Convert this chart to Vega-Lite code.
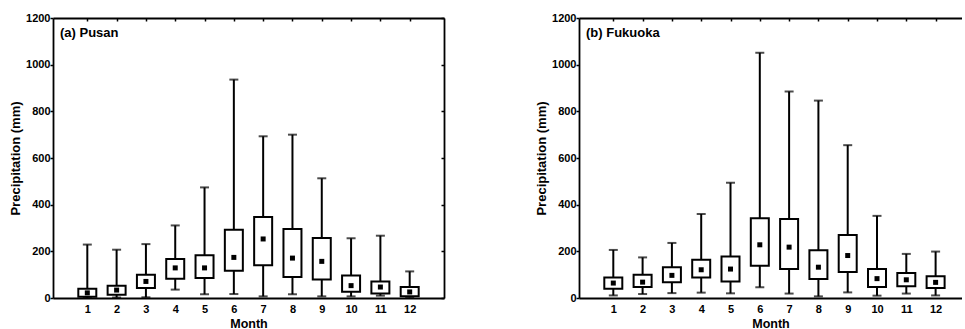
{
  "$schema": "https://vega.github.io/schema/vega-lite/v6.json",
  "padding": {"left": 9, "top": 12, "right": 0, "bottom": 0},
  "background": "white",
  "spacing": 90,
  "datasets": {
    "pusan": [
      {"month": 1, "min": 0, "q1": 5, "median": 22, "q3": 40, "max": 229},
      {"month": 2, "min": 2, "q1": 14, "median": 34, "q3": 53, "max": 207},
      {"month": 3, "min": 3, "q1": 43, "median": 71, "q3": 100, "max": 231},
      {"month": 4, "min": 36, "q1": 83, "median": 129, "q3": 167, "max": 311},
      {"month": 5, "min": 16, "q1": 86, "median": 129, "q3": 183, "max": 474},
      {"month": 6, "min": 17, "q1": 117, "median": 174, "q3": 293, "max": 936},
      {"month": 7, "min": 7, "q1": 140, "median": 253, "q3": 347, "max": 693},
      {"month": 8, "min": 16, "q1": 90, "median": 171, "q3": 296, "max": 700},
      {"month": 9, "min": 7, "q1": 79, "median": 157, "q3": 257, "max": 513},
      {"month": 10, "min": 7, "q1": 27, "median": 53, "q3": 96, "max": 256},
      {"month": 11, "min": 10, "q1": 19, "median": 47, "q3": 71, "max": 267},
      {"month": 12, "min": 3, "q1": 7, "median": 26, "q3": 47, "max": 114}
    ],
    "fukuoka": [
      {"month": 1, "min": 11, "q1": 40, "median": 64, "q3": 88, "max": 206},
      {"month": 2, "min": 17, "q1": 47, "median": 68, "q3": 100, "max": 174},
      {"month": 3, "min": 21, "q1": 68, "median": 97, "q3": 132, "max": 236},
      {"month": 4, "min": 23, "q1": 88, "median": 121, "q3": 164, "max": 360},
      {"month": 5, "min": 20, "q1": 71, "median": 124, "q3": 178, "max": 494},
      {"month": 6, "min": 46, "q1": 138, "median": 228, "q3": 342, "max": 1051},
      {"month": 7, "min": 19, "q1": 124, "median": 218, "q3": 339, "max": 885},
      {"month": 8, "min": 7, "q1": 81, "median": 132, "q3": 205, "max": 846},
      {"month": 9, "min": 24, "q1": 111, "median": 182, "q3": 270, "max": 655},
      {"month": 10, "min": 10, "q1": 47, "median": 83, "q3": 124, "max": 352},
      {"month": 11, "min": 19, "q1": 50, "median": 78, "q3": 107, "max": 189},
      {"month": 12, "min": 11, "q1": 43, "median": 67, "q3": 93, "max": 199}
    ]
  },
  "config": {
    "view": {"stroke": null},
    "font": "Liberation Sans",
    "axis": {
      "labelFont": "Liberation Sans",
      "labelFontWeight": "bold",
      "labelFontSize": 11,
      "labelColor": "black",
      "titleFont": "Liberation Sans",
      "titleFontWeight": "bold",
      "titleFontSize": 13,
      "titleColor": "black",
      "domainColor": "black",
      "domainWidth": 1.8,
      "tickColor": "black",
      "tickWidth": 1.5,
      "grid": false
    },
    "title": {
      "font": "Liberation Sans",
      "fontSize": 13,
      "fontWeight": "bold",
      "color": "black",
      "anchor": "start",
      "frame": "group",
      "offset": -28,
      "dx": 7
    }
  },
  "hconcat": [
    {
      "width": 391,
      "height": 280,
      "data": {"name": "pusan"},
      "title": {"text": "(a) Pusan"},
      "resolve": {"axis": {"x": "independent", "y": "independent"}},
      "layer": [
        {
          "mark": {"type": "rule", "strokeWidth": 2, "color": "black"},
          "encoding": {
            "x": {"field": "month", "type": "quantitative", "scale": {"domain": [0, 13], "nice": false, "zero": false},
                  "axis": {"orient": "bottom", "values": [1,2,3,4,5,6,7,8,9,10,11,12], "ticks": false, "labelPadding": 5, "title": "Month", "titlePadding": 3, "titleFontSize": 12.5}},
            "y": {"field": "min", "type": "quantitative", "scale": {"domain": [0, 1200], "nice": false},
                  "axis": {"orient": "left", "values": [0,200,400,600,800,1000,1200], "format": "d", "tickSize": 3, "labelPadding": 0, "title": "Precipitation (mm)", "titlePadding": 3}},
            "y2": {"field": "max"}
          }
        },
        {
          "mark": {"type": "tick", "orient": "horizontal", "size": 9, "thickness": 2, "color": "black"},
          "encoding": {
            "x": {"field": "month", "type": "quantitative", "scale": {"domain": [0, 13], "nice": false, "zero": false},
                  "axis": {"orient": "top", "values": [1,2,3,4,5,6,7,8,9,10,11,12], "labels": false, "tickSize": -3, "title": null}},
            "y": {"field": "max", "type": "quantitative", "scale": {"domain": [0, 1200], "nice": false},
                  "axis": {"orient": "right", "values": [0,200,400,600,800,1000,1200], "labels": false, "tickSize": -3, "title": null}}
          }
        },
        {
          "mark": {"type": "tick", "orient": "horizontal", "size": 9, "thickness": 2, "color": "black"},
          "encoding": {
            "x": {"field": "month", "type": "quantitative", "scale": {"domain": [0, 13], "nice": false, "zero": false}, "axis": null},
            "y": {"field": "min", "type": "quantitative", "scale": {"domain": [0, 1200], "nice": false}, "axis": null}
          }
        },
        {
          "mark": {"type": "bar", "width": 18, "fill": "white", "stroke": "black", "strokeWidth": 2},
          "encoding": {
            "x": {"field": "month", "type": "quantitative", "scale": {"domain": [0, 13], "nice": false, "zero": false}, "axis": null},
            "y": {"field": "q1", "type": "quantitative", "scale": {"domain": [0, 1200], "nice": false}, "axis": null},
            "y2": {"field": "q3"}
          }
        },
        {
          "mark": {"type": "square", "size": 25, "color": "black", "filled": true, "opacity": 1},
          "encoding": {
            "x": {"field": "month", "type": "quantitative", "scale": {"domain": [0, 13], "nice": false, "zero": false}, "axis": null},
            "y": {"field": "median", "type": "quantitative", "scale": {"domain": [0, 1200], "nice": false}, "axis": null}
          }
        }
      ]
    },
    {
      "width": 383,
      "height": 280,
      "data": {"name": "fukuoka"},
      "title": {"text": "(b) Fukuoka"},
      "resolve": {"axis": {"x": "independent", "y": "independent"}},
      "layer": [
        {
          "mark": {"type": "rule", "strokeWidth": 2, "color": "black"},
          "encoding": {
            "x": {"field": "month", "type": "quantitative", "scale": {"domain": [0, 12.73], "nice": false, "zero": false},
                  "axis": {"orient": "bottom", "values": [1,2,3,4,5,6,7,8,9,10,11,12], "ticks": false, "labelPadding": 5, "title": "Month", "titlePadding": 3, "titleFontSize": 12.5}},
            "y": {"field": "min", "type": "quantitative", "scale": {"domain": [0, 1200], "nice": false},
                  "axis": {"orient": "left", "values": [0,200,400,600,800,1000,1200], "format": "d", "tickSize": 3, "labelPadding": 0, "title": "Precipitation (mm)", "titlePadding": 3}},
            "y2": {"field": "max"}
          }
        },
        {
          "mark": {"type": "tick", "orient": "horizontal", "size": 9, "thickness": 2, "color": "black"},
          "encoding": {
            "x": {"field": "month", "type": "quantitative", "scale": {"domain": [0, 12.73], "nice": false, "zero": false},
                  "axis": {"orient": "top", "values": [1,2,3,4,5,6,7,8,9,10,11,12], "labels": false, "tickSize": -3, "title": null}},
            "y": {"field": "max", "type": "quantitative", "scale": {"domain": [0, 1200], "nice": false}, "axis": null}
          }
        },
        {
          "mark": {"type": "tick", "orient": "horizontal", "size": 9, "thickness": 2, "color": "black"},
          "encoding": {
            "x": {"field": "month", "type": "quantitative", "scale": {"domain": [0, 12.73], "nice": false, "zero": false}, "axis": null},
            "y": {"field": "min", "type": "quantitative", "scale": {"domain": [0, 1200], "nice": false}, "axis": null}
          }
        },
        {
          "mark": {"type": "bar", "width": 18, "fill": "white", "stroke": "black", "strokeWidth": 2},
          "encoding": {
            "x": {"field": "month", "type": "quantitative", "scale": {"domain": [0, 12.73], "nice": false, "zero": false}, "axis": null},
            "y": {"field": "q1", "type": "quantitative", "scale": {"domain": [0, 1200], "nice": false}, "axis": null},
            "y2": {"field": "q3"}
          }
        },
        {
          "mark": {"type": "square", "size": 25, "color": "black", "filled": true, "opacity": 1},
          "encoding": {
            "x": {"field": "month", "type": "quantitative", "scale": {"domain": [0, 12.73], "nice": false, "zero": false}, "axis": null},
            "y": {"field": "median", "type": "quantitative", "scale": {"domain": [0, 1200], "nice": false}, "axis": null}
          }
        }
      ]
    }
  ]
}
